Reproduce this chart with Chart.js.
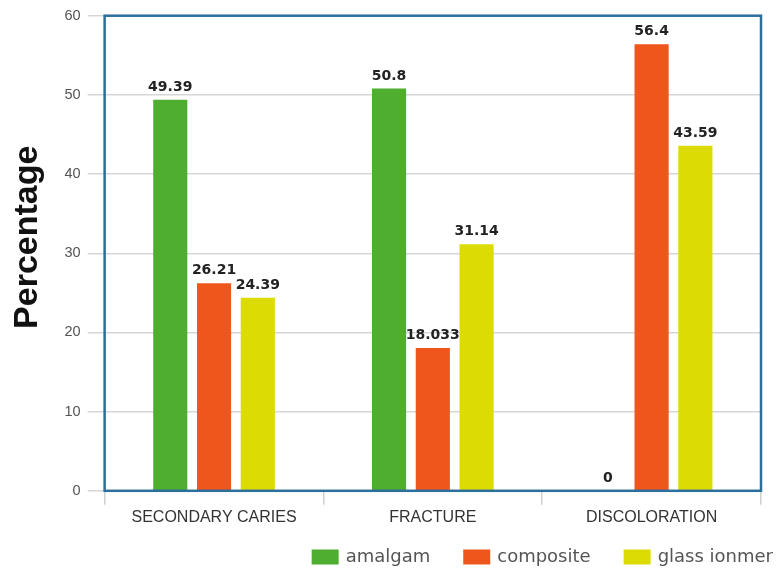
<!DOCTYPE html>
<html>
<head>
<meta charset="utf-8">
<script src="https://cdn.jsdelivr.net/npm/chart.js@4.4.1/dist/chart.umd.min.js"></script>
<style>
  html, body { margin: 0; padding: 0; background: #ffffff; }
  #wrap { width: 778px; height: 579px; position: relative; }
</style>
</head>
<body>
<div id="wrap"><canvas id="chart" width="778" height="579"></canvas></div>
<script>
// Failure causes per restoration material (%)
const categories = ['SECONDARY CARIES', 'FRACTURE', 'DISCOLORATION'];
const seriesNames = ['amalgam', 'composite', 'glass ionmer'];
const amalgam = [49.39, 50.8, 0];
const composite = [26.21, 18.033, 56.4];
const glassIonmer = [24.39, 31.14, 43.59];
const yTicks = [0, 10, 20, 30, 40, 50, 60];
const yAxisTitle = 'Percentage';

const seriesColors = ['#4fae30', '#ee561c', '#dcdc04'];
const frameColor = '#2c6f9c';

// Value labels above each bar
const valueLabels = {
  id: 'valueLabels',
  afterDatasetsDraw(chart) {
    const ctx = chart.ctx;
    ctx.save();
    ctx.font = 'bold 14px "DejaVu Sans", Verdana, sans-serif';
    ctx.fillStyle = '#222222';
    ctx.textAlign = 'center';
    ctx.textBaseline = 'alphabetic';
    chart.data.datasets.forEach((ds, i) => {
      const meta = chart.getDatasetMeta(i);
      meta.data.forEach((bar, j) => {
        ctx.fillText(String(ds.data[j]), bar.x, bar.y - 9);
      });
    });
    ctx.restore();
  }
};

// Blue frame around the plotting area
const plotFrame = {
  id: 'plotFrame',
  afterDatasetsDraw(chart) {
    const a = chart.chartArea;
    const ctx = chart.ctx;
    ctx.save();
    ctx.strokeStyle = frameColor;
    ctx.lineWidth = 2.5;
    ctx.strokeRect(a.left, a.top, a.right - a.left, a.bottom - a.top);
    ctx.restore();
  }
};

// Rotated y-axis title, sitting a little above the axis midpoint
const yTitle = {
  id: 'yTitle',
  afterDraw(chart) {
    const a = chart.chartArea;
    const ctx = chart.ctx;
    ctx.save();
    ctx.translate(37, (a.top + a.bottom) / 2 - 16);
    ctx.rotate(-Math.PI / 2);
    ctx.font = 'bold 34px "Liberation Sans", Arial, sans-serif';
    ctx.fillStyle = '#111111';
    ctx.textAlign = 'center';
    ctx.textBaseline = 'alphabetic';
    ctx.fillText(yAxisTitle, 0, 0);
    ctx.restore();
  }
};

// Legend row in the bottom-right corner
const bottomLegend = {
  id: 'bottomLegend',
  afterDraw(chart) {
    const ctx = chart.ctx;
    const boxW = 27, boxH = 15, gap = 7, spacing = 33;
    const cy = 557;
    ctx.save();
    ctx.font = '18px "DejaVu Sans", sans-serif';
    ctx.textBaseline = 'middle';
    ctx.textAlign = 'left';
    const widths = chart.data.datasets.map(ds => ctx.measureText(ds.label).width);
    let total = 0;
    widths.forEach((w, i) => { total += boxW + gap + w + (i < widths.length - 1 ? spacing : 0); });
    let x = chart.width - 5 - total;
    chart.data.datasets.forEach((ds, i) => {
      ctx.fillStyle = ds.backgroundColor;
      ctx.fillRect(x, cy - boxH / 2, boxW, boxH);
      ctx.fillStyle = '#555555';
      ctx.fillText(ds.label, x + boxW + gap, cy);
      x += boxW + gap + widths[i] + spacing;
    });
    ctx.restore();
  }
};

const seriesValues = [amalgam, composite, glassIonmer];

new Chart(document.getElementById('chart'), {
  type: 'bar',
  data: {
    labels: categories,
    datasets: seriesNames.map((name, i) => ({
      label: name,
      data: seriesValues[i],
      backgroundColor: seriesColors[i],
      borderWidth: 0,
      categoryPercentage: 0.6,
      barPercentage: 0.78
    }))
  },
  options: {
    responsive: false,
    animation: false,
    layout: { padding: { left: 57.5, right: 17, top: 14, bottom: 49 } },
    plugins: {
      legend: { display: false },
      tooltip: { enabled: false }
    },
    scales: {
      x: {
        border: { display: false },
        grid: {
          display: true,
          drawOnChartArea: false,
          drawTicks: true,
          tickLength: 14,
          color: '#d0d0d0',
          lineWidth: 1.5
        },
        ticks: {
          color: '#333333',
          padding: 3,
          font: { family: '"Liberation Sans", Arial, sans-serif', size: 16 }
        }
      },
      y: {
        min: 0,
        max: 60,
        afterBuildTicks(scale) { scale.ticks = yTicks.map(v => ({ value: v })); },
        border: { display: false },
        grid: {
          color: '#d6d6d6',
          lineWidth: 1.5,
          drawTicks: true,
          tickLength: 17
        },
        ticks: {
          color: '#555555',
          padding: 7,
          font: { family: '"Liberation Sans", Arial, sans-serif', size: 14.5 }
        }
      }
    }
  },
  plugins: [valueLabels, plotFrame, yTitle, bottomLegend]
});
</script>
</body>
</html>
